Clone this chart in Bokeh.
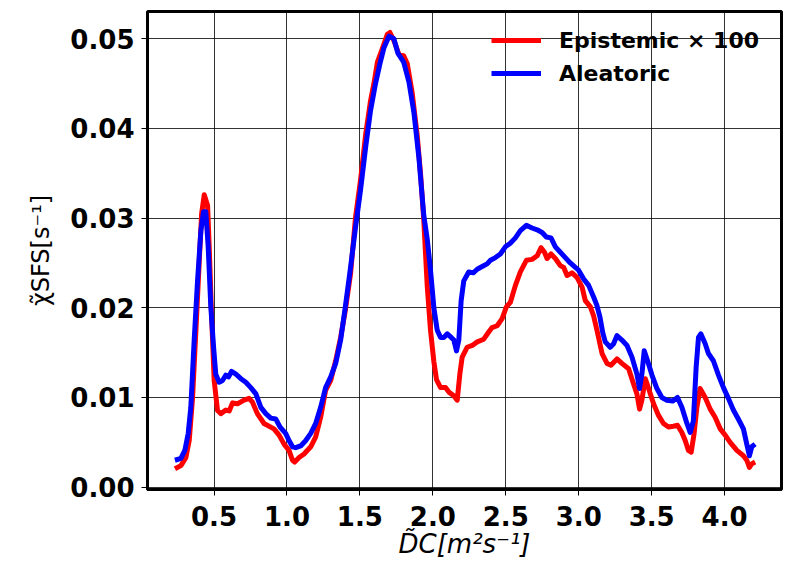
from bokeh.plotting import figure
from bokeh.models import FixedTicker, Range1d, Legend, LegendItem
from bokeh.embed import file_html
from bokeh.resources import INLINE

# ---- data ----
epi_x = [0.232, 0.273, 0.307, 0.33, 0.353, 0.376, 0.398, 0.415, 0.433, 0.456, 0.467, 0.483, 0.501,
         0.524, 0.547, 0.581, 0.604, 0.627, 0.661, 0.706, 0.74, 0.763, 0.797, 0.843, 0.911, 0.946,
         0.98, 1.014, 1.038, 1.053, 1.083, 1.117, 1.163, 1.197, 1.231, 1.265, 1.30, 1.334, 1.368,
         1.40, 1.436, 1.47, 1.504, 1.54, 1.573, 1.596, 1.62, 1.654, 1.688, 1.706, 1.733, 1.767,
         1.80, 1.825, 1.859, 1.893, 1.916, 1.938, 1.962, 1.984, 2.007, 2.025, 2.053, 2.087, 2.11,
         2.144, 2.167, 2.185, 2.201, 2.235, 2.27, 2.304, 2.349, 2.383, 2.406, 2.441, 2.475, 2.504,
         2.531, 2.566, 2.60, 2.641, 2.68, 2.715, 2.742, 2.765, 2.783, 2.81, 2.84, 2.874, 2.897,
         2.92, 2.954, 2.988, 3.023, 3.045, 3.08, 3.102, 3.125, 3.16, 3.194, 3.221, 3.262, 3.296,
         3.342, 3.376, 3.399, 3.417, 3.433, 3.456, 3.479, 3.513, 3.547, 3.581, 3.615, 3.65, 3.677,
         3.707, 3.73, 3.752, 3.771, 3.791, 3.81, 3.832, 3.867, 3.901, 3.935, 3.97, 4.004, 4.038,
         4.084, 4.129, 4.152, 4.17, 4.186, 4.209]
epi_y = [0.00205, 0.0024, 0.0033, 0.0052, 0.0100, 0.0175, 0.0249, 0.0305, 0.0326, 0.0314, 0.0268,
         0.0193, 0.0119, 0.00855, 0.0082, 0.0086, 0.0085, 0.0094, 0.0093, 0.0097, 0.0099, 0.0095,
         0.0082, 0.0071, 0.0065, 0.0058, 0.0048, 0.0041, 0.0030, 0.0028, 0.0033, 0.0037, 0.0045,
         0.0056, 0.0078, 0.0108, 0.0119, 0.0141, 0.0167, 0.0197, 0.0238, 0.0301, 0.0342, 0.0394,
         0.0431, 0.0450, 0.0474, 0.0489, 0.0505, 0.0507, 0.0498, 0.0483, 0.0481, 0.0472, 0.0439,
         0.0392, 0.0349, 0.0297, 0.0223, 0.0175, 0.0140, 0.0120, 0.0111, 0.0111, 0.0106, 0.0102,
         0.0097, 0.0126, 0.0145, 0.0156, 0.0158, 0.0162, 0.0165, 0.0173, 0.0178, 0.0180, 0.0188,
         0.0201, 0.0206, 0.0225, 0.0240, 0.0253, 0.0254, 0.0258, 0.0267, 0.0262, 0.0255, 0.0260,
         0.0255, 0.0247, 0.0245, 0.0236, 0.0239, 0.0234, 0.0223, 0.0208, 0.0201, 0.0191, 0.0175,
         0.0149, 0.0138, 0.0136, 0.0143, 0.0138, 0.0132, 0.0115, 0.0104, 0.0087, 0.0097, 0.0121,
         0.0110, 0.0093, 0.0080, 0.0071, 0.0067, 0.0068, 0.0069, 0.0061, 0.0052, 0.0041, 0.0039,
         0.0060, 0.0089, 0.0110, 0.0100, 0.0087, 0.0078, 0.0065, 0.0058, 0.0050, 0.0041, 0.0035,
         0.0030, 0.0022, 0.0026, 0.0028]

ale_x = [0.232, 0.273, 0.30, 0.323, 0.341, 0.364, 0.387, 0.41, 0.428, 0.444, 0.46, 0.478, 0.497,
         0.512, 0.535, 0.558, 0.581, 0.60, 0.62, 0.65, 0.684, 0.718, 0.752, 0.787, 0.821, 0.855,
         0.889, 0.923, 0.953, 0.991, 1.014, 1.038, 1.06, 1.094, 1.129, 1.163, 1.197, 1.231, 1.265,
         1.30, 1.334, 1.368, 1.40, 1.436, 1.47, 1.504, 1.54, 1.573, 1.607, 1.637, 1.665, 1.70,
         1.733, 1.76, 1.80, 1.836, 1.87, 1.904, 1.938, 1.962, 1.984, 2.007, 2.03, 2.053, 2.075,
         2.099, 2.126, 2.144, 2.162, 2.178, 2.194, 2.212, 2.246, 2.277, 2.304, 2.338, 2.372, 2.395,
         2.429, 2.463, 2.497, 2.531, 2.566, 2.60, 2.641, 2.68, 2.715, 2.749, 2.778, 2.81, 2.84,
         2.874, 2.908, 2.942, 2.977, 2.999, 3.034, 3.068, 3.102, 3.124, 3.145, 3.165, 3.182, 3.216,
         3.239, 3.262, 3.296, 3.331, 3.365, 3.399, 3.417, 3.433, 3.449, 3.472, 3.502, 3.536, 3.57,
         3.604, 3.645, 3.677, 3.707, 3.736, 3.764, 3.786, 3.805, 3.821, 3.837, 3.867, 3.889, 3.923,
         3.958, 3.992, 4.026, 4.06, 4.094, 4.129, 4.152, 4.17, 4.186, 4.209]
ale_y = [0.0030, 0.0032, 0.0041, 0.0060, 0.0089, 0.0164, 0.0230, 0.0286, 0.0307, 0.0307, 0.0268,
         0.0201, 0.0156, 0.0126, 0.0117, 0.0119, 0.0125, 0.0123, 0.0129, 0.0126, 0.0121, 0.0117,
         0.0111, 0.0104, 0.0089, 0.0082, 0.0077, 0.0076, 0.0067, 0.0060, 0.0052, 0.0045, 0.0044,
         0.0046, 0.0052, 0.0060, 0.0071, 0.0089, 0.0111, 0.0123, 0.0138, 0.0164, 0.0201, 0.0245,
         0.0290, 0.0331, 0.0380, 0.0420, 0.0450, 0.0472, 0.0490, 0.0503, 0.0500, 0.0484, 0.0474,
         0.0452, 0.0418, 0.0368, 0.0303, 0.0276, 0.0242, 0.0200, 0.0175, 0.0167, 0.0167, 0.0171,
         0.0167, 0.0164, 0.0152, 0.0164, 0.0208, 0.0230, 0.0240, 0.0239, 0.0243, 0.0246, 0.0249,
         0.0253, 0.0256, 0.0260, 0.0268, 0.0272, 0.0278, 0.0286, 0.0292, 0.0289, 0.0287, 0.0284,
         0.0279, 0.0278, 0.0268, 0.0262, 0.0256, 0.0250, 0.0245, 0.0242, 0.0232, 0.0225, 0.0212,
         0.0203, 0.0190, 0.0172, 0.0162, 0.0156, 0.0160, 0.0169, 0.0164, 0.0158, 0.0145, 0.0126,
         0.0110, 0.0126, 0.0152, 0.0141, 0.0125, 0.0110, 0.0100, 0.0097, 0.0096, 0.0100, 0.0089,
         0.0074, 0.0061, 0.0074, 0.0134, 0.0167, 0.0171, 0.0160, 0.0149, 0.0141, 0.0125, 0.0111,
         0.0099, 0.0086, 0.0076, 0.0065, 0.0048, 0.0035, 0.0045, 0.0048]

x_ticks = [0.5, 1.0, 1.5, 2.0, 2.5, 3.0, 3.5, 4.0]
x_tick_labels = ["0.5", "1.0", "1.5", "2.0", "2.5", "3.0", "3.5", "4.0"]
y_ticks = [0.0, 0.01, 0.02, 0.03, 0.04, 0.05]
y_tick_labels = ["0.00", "0.01", "0.02", "0.03", "0.04", "0.05"]
series_names = ["Epistemic × 100", "Aleatoric"]
series_colors = ["#ff0000", "#0000ff"]
x_label = "D̃C[m²s⁻¹]"
y_label = "χ̃SFS[s⁻¹]"

FONT = "DejaVu Sans"

p = figure(width=784, height=565, output_backend="svg", toolbar_location=None,
           x_range=Range1d(0.044, 4.39), y_range=Range1d(-0.00026, 0.05304),
           min_border_left=147, min_border_right=3, min_border_top=11, min_border_bottom=76)
p.background_fill_color = "white"
p.border_fill_color = "white"
p.outline_line_color = "black"
p.outline_line_width = 3
p.outline_line_alpha = 1.0

for ax in (p.xaxis, p.yaxis):
    ax.axis_line_width = 3
    ax.axis_line_color = "black"
    ax.major_tick_out = 6
    ax.major_tick_in = 0
    ax.major_tick_line_width = 1
    ax.minor_tick_out = 0
    ax.minor_tick_in = 0
    ax.major_label_text_font = FONT
    ax.major_label_text_font_style = "bold"
    ax.major_label_text_font_size = "26px"
    ax.major_label_text_color = "black"
    ax.axis_label_text_font = FONT
    ax.axis_label_text_color = "black"

p.xaxis.ticker = FixedTicker(ticks=x_ticks)
p.yaxis.ticker = FixedTicker(ticks=y_ticks)
p.xaxis.major_label_overrides = {t: l for t, l in zip(x_ticks, x_tick_labels)}
p.yaxis.major_label_overrides = {t: l for t, l in zip(y_ticks, y_tick_labels)}
p.xaxis.major_label_standoff = 10
p.yaxis.major_label_standoff = 7
p.xaxis.axis_label = x_label
p.yaxis.axis_label = y_label
p.xaxis.axis_label_text_font_style = "italic"
p.yaxis.axis_label_text_font_style = "normal"
p.xaxis.axis_label_text_font_size = "26px"
p.yaxis.axis_label_text_font_size = "24px"
p.xaxis.axis_label_standoff = 0
p.yaxis.axis_label_standoff = 12

for g in (p.xgrid, p.ygrid):
    g.grid_line_color = "black"
    g.grid_line_alpha = 0.8
    g.grid_line_width = 1

r1 = p.line(epi_x, epi_y, line_color=series_colors[0], line_width=5, line_join="round")
r2 = p.line(ale_x, ale_y, line_color=series_colors[1], line_width=5, line_join="round")

legend = Legend(items=[LegendItem(label=series_names[0], renderers=[r1]),
                       LegendItem(label=series_names[1], renderers=[r2])],
                location=(344, 402), glyph_width=50, glyph_height=28, label_height=28,
                label_standoff=18, spacing=5, padding=0, margin=0,
                background_fill_alpha=0, border_line_alpha=0,
                label_text_font=FONT, label_text_font_style="bold",
                label_text_font_size="22px", label_text_color="black")
p.add_layout(legend)

open("out.html", "w").write(file_html(p, INLINE))
